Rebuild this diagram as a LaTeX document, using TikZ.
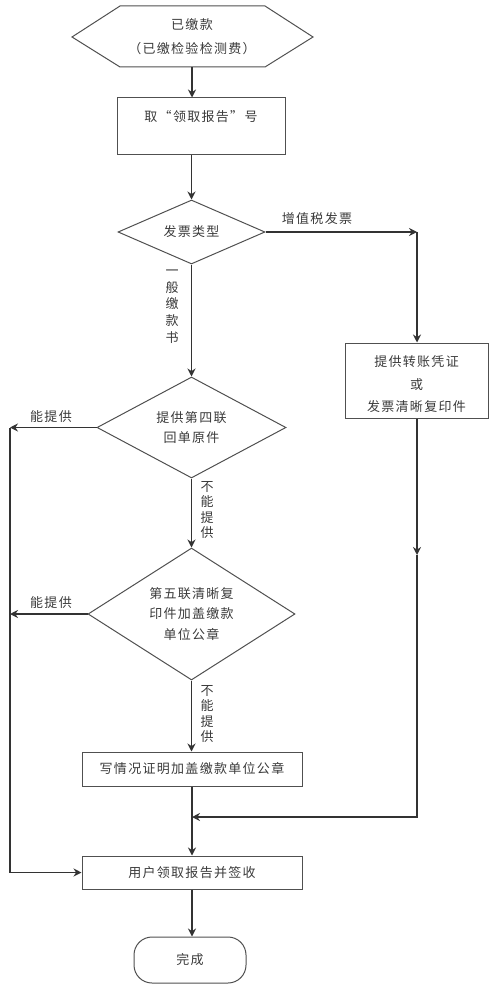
\documentclass[tikz,border=0pt]{standalone}
\usepackage{fontspec}
\setmainfont[LetterSpace=10]{Noto Sans CJK SC}
\usetikzlibrary{shapes.geometric,arrows.meta}
\definecolor{ln}{HTML}{333333}
\definecolor{bd}{HTML}{505050}
\definecolor{tx}{HTML}{3A3A3A}
\begin{document}
\begin{tikzpicture}[x=1pt,y=-1pt,
  every node/.style={font=\fontsize{13}{16}\selectfont, text=tx, inner sep=0pt},
  boxn/.style={draw=bd, line width=1pt, rectangle},
  dia/.style={draw=bd, line width=1pt, diamond, shape aspect=1.8, align=center},
  lbl/.style={align=center},
  flow/.style={draw=ln, line width=1.5pt, -{Stealth[length=8pt,width=8pt]}},
  seg/.style={draw=ln, line width=1.5pt}
]
\useasboundingbox (0,0) rectangle (496,992);
% start hexagon
\draw[draw=bd, line width=1pt] (72,37) -- (120,6) -- (265,6) -- (313,37) -- (265,67) -- (120,67) -- cycle;
\node[minimum width=241pt, minimum height=61pt, align=center, font=\fontsize{13}{24}\selectfont] (start) at (192,36.5) {已缴款\\（已缴检验检测费）};
% box 1
\node[boxn, minimum width=168pt, minimum height=57pt] (box1) at (201,126.5) {};
\node (t1) at (201,117) {取“领取报告”号};
% diamonds
\node[dia, minimum width=147pt, minimum height=64pt] (d1) at (191.5,232) {发票类型};
\node[dia, minimum width=189pt, minimum height=101pt, font=\fontsize{13}{20}\selectfont] (d2) at (191.5,427.5) {提供第四联\\回单原件};
\node[dia, minimum width=207pt, minimum height=132pt, font=\fontsize{13}{20.5}\selectfont] (d3) at (191.5,614) {第五联清晰复\\印件加盖缴款\\单位公章};
% right box
\node[boxn, minimum width=143pt, minimum height=75pt] (boxR) at (416.5,380.5) {};
\node[align=center, font=\fontsize{13}{22.5}\selectfont] (tR) at (416.5,384.5) {提供转账凭证\\或\\发票清晰复印件};
% lower boxes
\node[boxn, minimum width=220pt, minimum height=34pt] (box3) at (192,769) {写情况证明加盖缴款单位公章};
\node[boxn, minimum width=220pt, minimum height=33pt] (box4) at (192,872.5) {用户领取报告并签收};
\node[draw=bd, line width=1pt, rectangle, rounded corners=18pt, minimum width=112pt, minimum height=46pt] (done) at (190,960) {完成};
% coordinates
\coordinate (rc) at (417,232);
\coordinate (rm) at (417,555);
\coordinate (rj) at (417,817);
\coordinate (mj) at (192,817);
\coordinate (L1) at (10,427.5);
\coordinate (L2) at (10,614);
% connectors
\draw[flow] (start.south) -- (start.south |- box1.north);
\draw[flow] (box1.south -| d1.north) -- (d1.north);
\draw[flow] (d1.east) -- (rc);
\draw[flow] (rc) -- (boxR.north -| rc);
\draw[flow] (boxR.south -| rm) -- (rm);
\draw[flow] (rm) -- (rj) -- (mj);
\draw[flow] (d1.south) -- (d2.north);
\draw[flow] (d2.south) -- (d3.north);
\draw[flow] (d3.south) -- (d3.south |- box3.north);
\draw[flow] (box3.south) -- (box4.north);
\draw[flow] (d2.west) -- (L1);
\draw[flow] (d3.west) -- (L2);
\draw[flow] (L1) -- (L1 |- box4.west) -- (box4.west);
\draw[flow] (box4.south) -- (box4.south |- done.north);
% labels
\node (l1) at (317,219) {增值税发票};
\node[lbl, font=\fontsize{13}{16.75}\selectfont] (l2) at (172,306.5) {一\\般\\缴\\款\\书};
\node (l3) at (51,417) {能提供};
\node[lbl, font=\fontsize{13}{15.5}\selectfont] (l4) at (207,510) {不\\能\\提\\供};
\node (l5) at (51,603) {能提供};
\node[lbl, font=\fontsize{13}{15.5}\selectfont] (l6) at (207,714) {不\\能\\提\\供};
\end{tikzpicture}
\end{document}
